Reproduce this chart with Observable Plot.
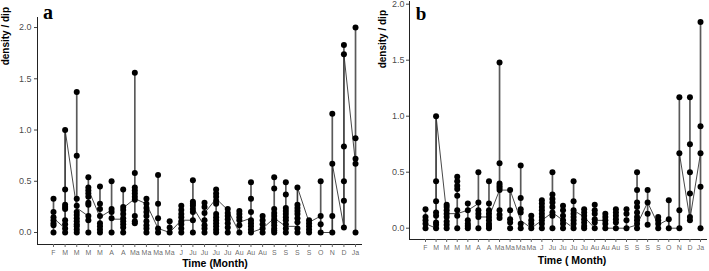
<!DOCTYPE html>
<html><head><meta charset="utf-8">
<script src="https://cdn.jsdelivr.net/npm/d3@7"></script>
<script src="https://cdn.jsdelivr.net/npm/@observablehq/plot@0.6"></script>
<style>
body{margin:0;background:#fff;}
#wrap{position:relative;width:709px;height:271px;overflow:hidden;background:#fff;}
#pa,#pb{position:absolute;top:0;}
#pa{left:0;} #pb{left:372px;}
svg{overflow:visible;}
</style></head><body>
<div id="wrap"><div id="pa"></div><div id="pb"></div></div>
<script>
const labels = ["F","M","M","M","M","A","A","Ma","Ma","Ma","Ma","J","Ju","Ju","Ju","Ju","Au","Au","Au","S","S","S","S","O","N","D","Ja"];
const yTicks = [0, 0.5, 1, 1.5, 2];

// Panel a: observed values per time point
const dotsA = [
  [0, 0.07, 0.09, 0.12, 0.15, 0.2, 0.33],
  [0, 0.04, 0.08, 0.12, 0.23, 0.25, 0.27, 0.42, 1.0],
  [0, 0.03, 0.06, 0.08, 0.11, 0.14, 0.17, 0.2, 0.26, 0.33, 0.75, 1.37],
  [0, 0.12, 0.16, 0.27, 0.29, 0.35, 0.38, 0.41, 0.44, 0.54],
  [0, 0.03, 0.06, 0.09, 0.16, 0.23, 0.28, 0.45],
  [0, 0.14, 0.2, 0.23, 0.5],
  [0, 0.05, 0.08, 0.11, 0.14, 0.18, 0.22, 0.25, 0.42],
  [0.09, 0.11, 0.16, 0.32, 0.35, 0.38, 0.41, 0.44, 0.58, 1.56],
  [0, 0.04, 0.07, 0.11, 0.16, 0.2, 0.24, 0.28, 0.33],
  [0, 0.04, 0.14, 0.28, 0.56],
  [0, 0.05, 0.11],
  [0, 0.04, 0.08, 0.11, 0.15, 0.18, 0.22, 0.26],
  [0, 0.12, 0.2, 0.23, 0.26, 0.28, 0.3, 0.51],
  [0, 0.04, 0.07, 0.12, 0.19, 0.25, 0.29],
  [0, 0.03, 0.06, 0.09, 0.12, 0.15, 0.18, 0.28, 0.31, 0.35, 0.38, 0.42],
  [0, 0.05, 0.09, 0.13, 0.16, 0.19, 0.23],
  [0, 0.07, 0.12, 0.15, 0.18, 0.21],
  [0, 0.03, 0.06, 0.09, 0.12, 0.2, 0.33, 0.49],
  [0, 0.04, 0.08, 0.12, 0.16],
  [0, 0.02, 0.04, 0.07, 0.1, 0.13, 0.16, 0.19, 0.23, 0.43, 0.54],
  [0, 0.04, 0.08, 0.12, 0.15, 0.18, 0.21, 0.24, 0.37, 0.49],
  [0, 0.04, 0.1, 0.14, 0.18, 0.21, 0.24, 0.27, 0.44],
  [0, 0.03, 0.06, 0.09, 0.12],
  [0, 0.08, 0.16, 0.5],
  [0, 0.16, 0.67, 1.16],
  [0.05, 0.31, 0.5, 0.84, 1.74, 1.83],
  [0, 0.67, 0.72, 0.92, 2.0]
];
// Panel a: connecting line (entry / exit value at each time point)
const lineA = [
  [0.14],[0.04,1.0],[0.24],[0.16,0.42],[0.15],[0.22,0.13],[0.13,0.24],[0.33],[0.28],[0.04],[0.0],
  [0.12],[0.12,0.25],[0.06,0.19],[0.33],[0.22],[0.0,0.1],[0.14,0.0],[0.04],[0.14],[0.06],[0.06,0.44],
  [0.1],[0.16,0.0],[0.0,0.67],[0.05,1.74],[0.67]
];

// Panel b
const dotsB = [
  [0, 0.04, 0.07, 0.1, 0.17],
  [0, 0.03, 0.05, 0.11, 0.14, 0.24, 0.42, 1.0],
  [0, 0.03, 0.06, 0.1, 0.13, 0.16, 0.19, 0.21],
  [0, 0.11, 0.16, 0.29, 0.35, 0.38, 0.42, 0.46],
  [0, 0.02, 0.04, 0.07, 0.16, 0.22],
  [0, 0.1, 0.13, 0.16, 0.23, 0.5],
  [0, 0.02, 0.04, 0.07, 0.1, 0.13, 0.16, 0.22, 0.42],
  [0.09, 0.12, 0.16, 0.34, 0.36, 0.38, 0.4, 0.58, 1.48],
  [0, 0.05, 0.08, 0.16, 0.34],
  [0, 0.04, 0.14, 0.17, 0.27, 0.56],
  [0, 0.04, 0.07, 0.11],
  [0, 0.04, 0.07, 0.1, 0.13, 0.16, 0.19, 0.22, 0.25],
  [0, 0.11, 0.14, 0.19, 0.23, 0.26, 0.3, 0.5],
  [0, 0.04, 0.07, 0.11, 0.16, 0.2],
  [0, 0.04, 0.07, 0.1, 0.13, 0.16, 0.24, 0.42],
  [0, 0.02, 0.05, 0.08, 0.11, 0.14, 0.17],
  [0, 0.05, 0.08, 0.13, 0.16, 0.21],
  [0, 0.04, 0.07, 0.1, 0.13],
  [0, 0.05, 0.08, 0.11, 0.14, 0.17],
  [0, 0.07, 0.13, 0.17],
  [0, 0.04, 0.07, 0.1, 0.14, 0.19, 0.23, 0.34, 0.5],
  [0.03, 0.13, 0.23, 0.34],
  [0, 0.04, 0.07, 0.1],
  [0, 0.08, 0.25],
  [0, 0.16, 0.67, 1.17],
  [0.07, 0.1, 0.31, 0.5, 0.75, 1.17],
  [0, 0.37, 0.67, 0.91, 1.84]
];
const lineB = [
  [0.04],[0.0,1.0],[0.13],[0.13],[0.16],[0.22,0.1],[0.1],[0.34],[0.34],[0.07],[0.0],
  [0.07],[0.14],[0.07],[0.0,0.16],[0.1],[0.0,0.07],[0.07,0.0],[0.0],[0.0],[0.03],[0.23],
  [0.03],[0.08,0.0],[0.0,0.67],[0.08],[0.67]
];

function panel(dots, line, o) {
  const pts = dots.flatMap((vs, i) => vs.map(v => ({i, v})));
  const ranges = dots.map((vs, i) => ({i, lo: d3.min(vs), hi: d3.max(vs)}));
  const path = line.flatMap((vs, i) => vs.map(v => ({i, v})));
  return Plot.plot({
    width: o.width, height: 271,
    marginLeft: 37, marginRight: o.mr, marginTop: o.mt, marginBottom: o.mb,
    style: {fontFamily: "'Liberation Sans', Arial, sans-serif", background: "white", overflow: "visible"},
    x: {type: "linear", domain: o.xd},
    y: {domain: o.yd},
    marks: [
      Plot.ruleX([o.xd[0]], {y1: o.yd[0], y2: o.yd[1], stroke: "#222", strokeWidth: 1}),
      Plot.ruleY([o.yd[0]], {x1: o.xd[0], x2: o.xd[1], stroke: "#222", strokeWidth: 1}),
      Plot.axisY({ticks: yTicks, tickFormat: d3.format(".1f"), tickSize: 3, tickPadding: o.ytp, fontSize: 9, label: null, color: "#444", fillOpacity: 0.99}),
      Plot.axisX({ticks: d3.range(labels.length), tickFormat: i => labels[i], tickSize: 3, tickPadding: 3, fontSize: 7, label: null, color: "#666", fillOpacity: 0.99}),
      Plot.ruleX(ranges, {x: "i", y1: "lo", y2: "hi", stroke: "#5a5a5a", strokeWidth: 1.7}),
      Plot.line(path, {x: "i", y: "v", stroke: "#333", strokeWidth: 0.9}),
      Plot.dot(pts, {x: "i", y: "v", r: 3, fill: "black", stroke: "none"})
    ]
  });
}

function titles(svg, t) {
  const s = d3.select(svg);
  s.append("text").attr("x", t.lx).attr("y", t.ly)
    .attr("font-family", "'Liberation Serif', 'DejaVu Serif', serif").attr("font-weight", "bold")
    .attr("font-size", t.ls).attr("fill", "#000").text(t.letter);
  s.append("text").attr("transform", `translate(${t.yx},${t.yy}) rotate(-90)`)
    .attr("text-anchor", "end").attr("font-family", "'Liberation Sans', Arial, sans-serif")
    .attr("font-weight", "bold").attr("font-size", 10).attr("fill", "#000").text("density / dip");
  s.append("text").attr("x", t.xx).attr("y", t.xy).attr("text-anchor", "middle")
    .attr("font-family", "'Liberation Sans', Arial, sans-serif")
    .attr("font-weight", "bold").attr("font-size", 10.5).attr("fill", "#000").text(t.xt);
}

const a = panel(dotsA, lineA, {width: 372, mr: 10, mt: 17, mb: 27, xd: [-1.378, 26.6], yd: [-0.117, 2.098], ytp: 3});
document.getElementById("pa").appendChild(a);
titles(a, {letter: "a", lx: 48, ly: 18.5, ls: 20, yx: 9, yy: 7, xx: 215, xy: 267, xt: "Time (Month)"});

const b = panel(dotsB, lineB, {width: 337, mr: 2, mt: 1, mb: 32, xd: [-1.513, 26.66], yd: [-0.101, 2.024], ytp: 2});
document.getElementById("pb").appendChild(b);
titles(b, {letter: "b", lx: 49, ly: 19.5, ls: 19, yx: 14, yy: 10, xx: 200, xy: 264, xt: "Time ( Month)"});
</script>
</body></html>
